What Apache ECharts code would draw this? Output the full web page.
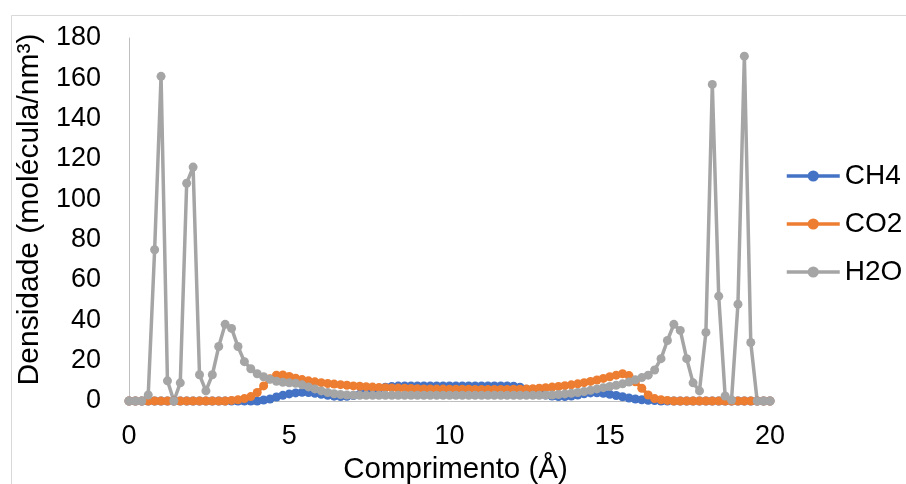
<!DOCTYPE html>
<html>
<head>
<meta charset="utf-8">
<script src="https://cdn.jsdelivr.net/npm/echarts@6/dist/echarts.min.js"></script>
<style>
html,body{margin:0;padding:0;background:#fff;}
#chart{width:906px;height:484px;}
</style>
</head>
<body>
<div id="chart"></div>
<script>
// Comprimento (Å)
var xValues = [0,0.2,0.4,0.6,0.8,1,1.2,1.4,1.6,1.8,2,2.2,2.4,2.6,2.8,3,3.2,3.4,3.6,3.8,
  4,4.2,4.4,4.6,4.8,5,5.2,5.4,5.6,5.8,6,6.2,6.4,6.6,6.8,7,7.2,7.4,7.6,7.8,
  8,8.2,8.4,8.6,8.8,9,9.2,9.4,9.6,9.8,10,10.2,10.4,10.6,10.8,11,11.2,11.4,11.6,11.8,
  12,12.2,12.4,12.6,12.8,13,13.2,13.4,13.6,13.8,14,14.2,14.4,14.6,14.8,15,15.2,15.4,15.6,15.8,
  16,16.2,16.4,16.6,16.8,17,17.2,17.4,17.6,17.8,18,18.2,18.4,18.6,18.8,19,19.2,19.4,19.6,19.8,20];

var ch4 = [0,0,0,0,0,0,0,0,0,0,0,0,0,0,0,0,0,0,0,0,
  0,0.5,1.0,2.0,2.8,3.5,4.0,4.3,4.2,3.8,3.3,2.8,2.4,2.2,2.3,2.7,3.3,4.2,5.2,6.1,
  6.8,7.2,7.4,7.5,7.5,7.5,7.5,7.5,7.5,7.5,7.5,7.5,7.5,7.5,7.5,7.5,7.5,7.5,7.5,7.5,
  7.3,6.8,5.8,4.8,3.8,3.0,2.5,2.2,2.2,2.5,3.0,3.6,4.0,4.1,3.8,3.3,2.7,2.1,1.5,1.0,
  0.6,0.4,0.2,0,0,0,0,0,0,0,0,0,0,0,0,0,0,0,0,0,0];

var co2 = [0,0,0,0,0,0,0,0,0,0,0,0,0,0,0,0,0.3,0.6,1.2,2.2,
  4.2,7.5,11,12.8,12.9,12.2,11.3,10.6,10.0,9.5,9.1,8.7,8.4,8.1,7.8,7.5,7.3,7.1,6.9,6.7,
  6.6,6.5,6.4,6.3,6.2,6.1,6.0,6.0,5.9,5.9,5.8,5.8,5.8,5.8,5.7,5.7,5.7,5.7,5.7,5.7,
  5.8,5.8,5.9,6.1,6.3,6.6,6.9,7.2,7.6,8.0,8.5,9.1,9.7,10.4,11.2,12.0,12.8,13.5,12.6,9.5,
  6.3,3.0,1.2,0.6,0.3,0,0,0,0,0,0,0,0,0,0,0,0,0,0,0,0];

var h2o = [0,0,0,3,75,161,10,0,9,108,116,13,5,13,27,38,36,27,19.5,16,
  13.5,12,10.8,9.8,9.3,9,8.8,8,7,6,5,4.2,3.6,3.2,3,2.9,2.8,2.8,2.8,2.8,
  2.8,2.8,2.8,2.8,2.8,2.8,2.8,2.8,2.8,2.8,2.8,2.8,2.8,2.8,2.8,2.8,2.8,2.8,2.8,2.8,
  2.8,2.8,2.8,2.8,2.8,2.9,3.0,3.2,3.5,3.8,4.2,4.7,5.3,6.0,6.6,7.2,7.8,8.5,9.4,10.5,
  11.6,12.8,15.4,21,30,38,35,21,9,5,34,157,52,2.5,0.5,48,171,29,0,0,0];

var seriesNames = ['CH4','CO2','H2O'];
var seriesColors = ['#4472C4','#ED7D31','#A5A5A5'];
var seriesValues = [ch4, co2, h2o];

function pairs(ys){
  var out = [];
  for (var i = 0; i < xValues.length; i++) out.push([xValues[i], ys[i]]);
  return out;
}

var FONT = '"Liberation Sans", Arial, sans-serif';
var chart = echarts.init(document.getElementById('chart'), null, {renderer:'canvas'});
chart.setOption({
  animation: false,
  backgroundColor: '#ffffff',
  graphic: [{
    type: 'rect', left: 9, top: 13, z: -10,
    shape: {width: 1000, height: 1000},
    style: {fill: 'none', stroke: '#d9d9d9', lineWidth: 1}
  }],
  grid: {left: 129, right: 136, top: 38, bottom: 83, outerBoundsMode: 'none', containLabel: false},
  legend: {
    orient: 'vertical', left: 780, top: 157, itemGap: 20,
    itemWidth: 53, itemHeight: 14,
    lineStyle: {width: 3.5},
    textStyle: {fontFamily: FONT, fontSize: 28, color: '#000'},
    data: seriesNames
  },
  xAxis: {
    type: 'value', min: 0, max: 20, interval: 5,
    name: 'Comprimento (Å)', nameLocation: 'middle', nameGap: 50,
    nameTextStyle: {fontFamily: FONT, fontSize: 29.5, color: '#000', padding: [0, 0, 0, 12]},
    axisLine: {show: true, lineStyle: {color: '#bfbfbf', width: 1}},
    axisTick: {show: false},
    splitLine: {show: false},
    axisLabel: {fontFamily: FONT, fontSize: 27, color: '#000', margin: 22}
  },
  yAxis: {
    type: 'value', min: 0, max: 180, interval: 20,
    name: 'Densidade (molécula/nm³)', nameLocation: 'middle', nameGap: 74,
    nameTextStyle: {fontFamily: FONT, fontSize: 30, color: '#000', padding: [0, 0, 0, 20]},
    axisLine: {show: true, lineStyle: {color: '#bfbfbf', width: 1}},
    axisTick: {show: false},
    splitLine: {show: false},
    axisLabel: {fontFamily: FONT, fontSize: 27, color: '#000', margin: 28}
  },
  series: seriesNames.map(function(n, k){
    return {
      name: n, type: 'line', data: pairs(seriesValues[k]),
      symbol: 'circle', symbolSize: 9, showSymbol: true,
      color: seriesColors[k],
      lineStyle: {width: 3.5, color: seriesColors[k]},
      itemStyle: {color: seriesColors[k]}
    };
  })
});
</script>
</body>
</html>
